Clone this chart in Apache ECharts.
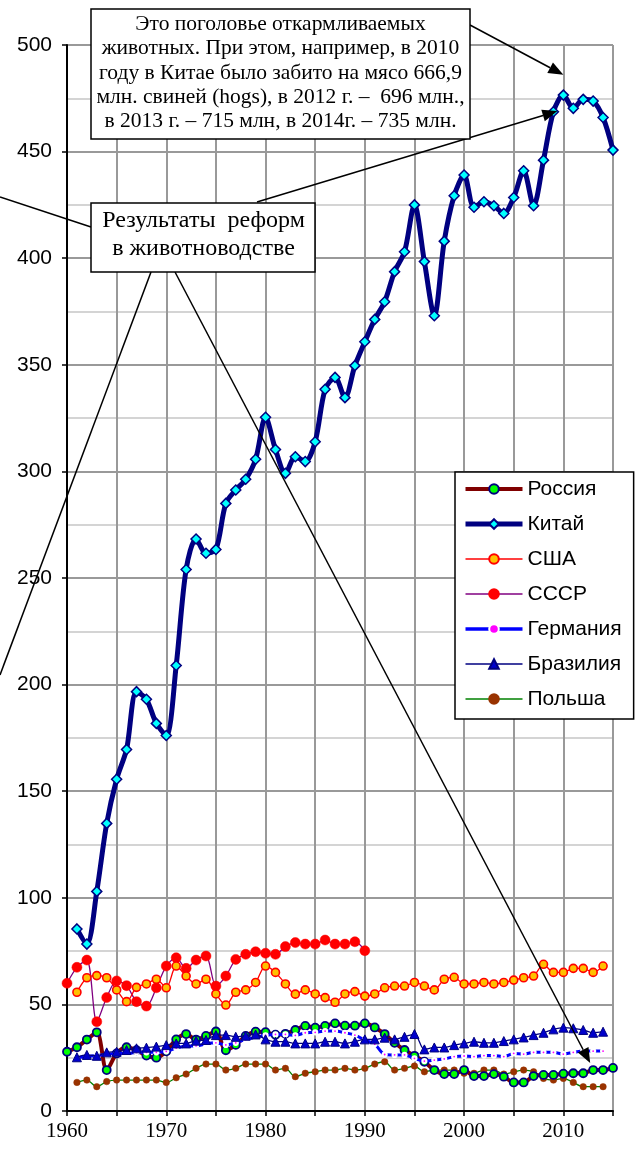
<!DOCTYPE html>
<html><head><meta charset="utf-8">
<script src="https://cdn.jsdelivr.net/npm/echarts@6/dist/echarts.min.js"></script>
<style>html,body{margin:0;padding:0;background:#fff}#c{width:637px;height:1149px}</style>
</head><body><div id="c"></div>
<script>
const years = [1960,1961,1962,1963,1964,1965,1966,1967,1968,1969,
  1970,1971,1972,1973,1974,1975,1976,1977,1978,1979,
  1980,1981,1982,1983,1984,1985,1986,1987,1988,1989,
  1990,1991,1992,1993,1994,1995,1996,1997,1998,1999,
  2000,2001,2002,2003,2004,2005,2006,2007,2008,2009,
  2010,2011,2012,2013,2014,2015];

const russia = [27.8,29.9,33.5,36.9,19.2,27,29.9,28.5,26,25,
  28,33.6,36.1,33.5,35.2,37.3,28.5,31,35.2,37.2,
  37,35.8,36.2,38,39.9,39.1,39.9,41.1,40,40,
  41.1,39.2,36.1,32,28.6,25.9,23.1,19.2,17.3,17.3,
  19.2,16.4,16.4,17.3,16.1,13.4,13.4,16.4,16.9,16.9,
  17.5,17.7,17.7,19.2,19.2,20.2];
const china = [null,85.4,78.3,103,134.9,155.6,169.6,196.7,193.1,181.8,
  176.1,209,254,268.3,261.6,263.4,285,291.3,296.3,305.7,
  325.4,310.3,299.1,306.9,304.6,313.9,338.5,344.1,334.6,349.6,
  360.8,371.3,379.6,393.7,403,425,398.4,373,408,429.3,
  439,423.9,426.5,424.6,421,428.5,441,424.6,446,468.7,
  476.5,470.3,474.5,473.7,466,450.7];
const usa = [null,55.7,62.5,63.5,62.5,56.8,51.3,58,59.6,61.8,
  57.8,68,63.3,59.6,61.8,54.9,49.7,55.7,56.8,60.3,
  68,65,59.6,54.8,56.8,54.9,53.2,51,54.9,56,
  53.9,54.9,57.8,58.6,58.6,60.3,58.6,56.8,61.8,62.7,
  59.6,59.6,60.3,59.6,60.3,61.4,62.5,63.3,68.8,65,
  65,66.9,66.9,65,68,null];
const ussr = [59.9,67.4,70.8,41.9,53.2,61,58.8,51.3,49.2,57.8,
  68,71.9,66.9,70.8,72.7,58.6,63.3,71.1,73.5,74.7,
  74,73.5,77.1,79,78.3,78.3,80.2,78.3,78.3,79.4,
  75.2,null,null,null,null,null,null,null,null,null,
  null,null,null,null,null,null,null,null,null,null,
  null,null,null,null,null,null];
const germany = [null,25,25.5,26,26.5,27,27,27.5,27.5,27.5,
  28,29.5,30.5,30.5,31.5,32,31,32,33.5,34.5,
  35.5,35.9,35.9,35.5,36.7,36.9,37.5,37.5,36.7,35.6,
  33.3,31.4,26.5,26.3,26.3,24.7,23.4,23.9,24.4,25.5,
  25.8,25.5,26,26,25.5,27,26.7,27.5,27.5,27.5,
  26.7,27.5,28.1,28.1,28.1,null];
const brazil = [null,25.2,26.3,25.9,27.5,27.8,28.6,29.4,29.7,30.2,
  30.9,31.7,31.7,33,33.3,35.6,35.6,34.8,35.3,35.9,
  33.6,32.5,32.5,31.7,31.7,31.7,32.5,32.5,31.7,32.5,
  33.6,33.6,34.4,33.6,34.8,36.1,28.9,29.8,29.8,30.9,
  31.7,32.5,32,32,32.8,33.6,34.5,35.6,36.7,38.3,
  39.1,38.8,38,36.7,37.2,null];
const poland = [null,13.4,14.5,11.4,13.8,14.5,14.5,14.5,14.5,14.5,
  13.4,15.6,17.3,20,22,22,19.2,20,22,22,
  22,19.2,20,16.1,17.7,18.4,19.2,19.2,20,19.2,
  20,22,23.1,19.2,20,21.1,18.4,19.2,19.2,19.2,
  17.7,17.7,19.2,19.2,17.3,18.4,19.2,18.4,15.3,14.5,
  15.3,13.4,11.4,11.4,11.4,null];

const legendNames = ['Россия','Китай','США','СССР','Германия','Бразилия','Польша'];
const yTicks = [0,50,100,150,200,250,300,350,400,450,500];
const noteTop = ['Это поголовье откармливаемых',
  'животных. При этом, например, в 2010',
  'году в Китае было забито на мясо 666,9',
  'млн. свиней (hogs), в 2012 г. –  696 млн.,',
  'в 2013 г. – 715 млн, в 2014г. – 735 млн.'];
const noteMid = ['Результаты  реформ','в животноводстве'];

function pairs(arr){ const out=[]; years.forEach((y,i)=>{ if(arr[i]!==null) out.push([y,arr[i]]); }); return out; }

const SERIF = "'Liberation Serif','Times New Roman',serif";
const SANS = "'Liberation Sans',Arial,sans-serif";
const chart = echarts.init(document.getElementById('c'), null, {renderer:'canvas'});

const S = 0.3;
const lw = {'Россия':4,'Китай':5,'США':1.3,'СССР':1.3,'Германия':3.5,'Бразилия':1.3,'Польша':1.3};
const option = {
  animation:false,
  backgroundColor:'#fff',
  grid:{left:67, right:24, top:45, bottom:38},
  xAxis:{type:'value', min:1960, max:2015, interval:5,
    axisLine:{show:true, onZero:false, lineStyle:{color:'#000', width:2}},
    axisTick:{show:true, length:5, lineStyle:{color:'#000', width:1.5}},
    axisLabel:{color:'#000', fontFamily:SERIF, fontSize:21, margin:10,
      formatter:v => (v%10===0 ? String(v) : '')},
    splitLine:{show:true, lineStyle:{color:'#999', width:2}}},
  yAxis:{type:'value', min:yTicks[0], max:yTicks[yTicks.length-1], interval:50,
    axisLine:{show:true, onZero:false, lineStyle:{color:'#000', width:2}},
    axisTick:{show:true, length:5, lineStyle:{color:'#000', width:1.5}},
    axisLabel:{color:'#000', fontFamily:SANS, fontSize:21, margin:15},
    splitLine:{show:true, lineStyle:{color:'#999', width:2}},
    minorTick:{show:false, splitNumber:2},
    minorSplitLine:{show:true, lineStyle:{color:'#d4d4d4', width:2}}},
  legend:{data:legendNames.map(n => ({name:n, lineStyle:{width:lw[n]}})),
    orient:'vertical', left:455, top:472,
    itemWidth:57, itemHeight:12, itemGap:13,
    padding:[6,12,9,8],
    backgroundColor:'#fff', borderColor:'#000', borderWidth:1.5,
    textStyle:{color:'#000', fontFamily:SANS, fontSize:21, lineHeight:22},
    selectedMode:false},
  series:[
    {name:'СССР', type:'line', data:pairs(ussr), smooth:S, symbol:'circle', symbolSize:10,
      lineStyle:{color:'#800080', width:1.3}, itemStyle:{color:'#ff0000', borderColor:'#ff0000', borderWidth:0.5}, z:2},
    {name:'Польша', type:'line', data:pairs(poland), smooth:S, symbol:'circle', symbolSize:6.5,
      lineStyle:{color:'#008000', width:1.3}, itemStyle:{color:'#993300', borderColor:'#993300', borderWidth:0.5}, z:3},
    {name:'Россия', type:'line', data:pairs(russia), smooth:S, symbol:'circle', symbolSize:8,
      lineStyle:{color:'#800000', width:4}, itemStyle:{color:'#00ff00', borderColor:'#000080', borderWidth:1.8}, z:4},
    {name:'Германия', type:'line', data:pairs(germany), smooth:S, symbol:'circle', symbolSize:4,
      lineStyle:{color:'#0000ff', width:3}, itemStyle:{color:'#ff00ff', borderColor:'#ffffff', borderWidth:2.2}, z:5},
    {name:'Бразилия', type:'line', data:pairs(brazil), smooth:S, symbol:'triangle', symbolSize:9,
      lineStyle:{color:'#000080', width:1.3}, itemStyle:{color:'#0000cc', borderColor:'#000080', borderWidth:1}, z:6},
    {name:'США', type:'line', data:pairs(usa), smooth:S, symbol:'circle', symbolSize:8,
      lineStyle:{color:'#ff0000', width:1.3}, itemStyle:{color:'#ffc000', borderColor:'#ff0000', borderWidth:1.6}, z:7},
    {name:'Китай', type:'line', data:pairs(china), smooth:S, symbol:'diamond', symbolSize:10,
      lineStyle:{color:'#000080', width:5}, itemStyle:{color:'#00ffff', borderColor:'#000080', borderWidth:1.5}, z:8}
  ]
};
chart.setOption(option);

function arrow(p1, p2, len, hw){
  const dx=p2[0]-p1[0], dy=p2[1]-p1[1], L=Math.hypot(dx,dy);
  const ux=dx/L, uy=dy/L, nx=-uy, ny=ux;
  const bx=p2[0]-ux*len, by=p2[1]-uy*len;
  return [
    {type:'polyline', silent:true, z:100, shape:{points:[p1,[bx,by]]}, style:{stroke:'#000', lineWidth:1.5, fill:null}},
    {type:'polygon', silent:true, z:100, shape:{points:[[p2[0],p2[1]],[bx+nx*hw,by+ny*hw],[bx-nx*hw,by-ny*hw]]}, style:{fill:'#000'}}
  ];
}
function seg(p1,p2){ return {type:'polyline', silent:true, z:100, shape:{points:[p1,p2]}, style:{stroke:'#000', lineWidth:1.5, fill:null}}; }

const tipA = chart.convertToPixel({gridIndex:0}, [2010, 486]);
const tipB = chart.convertToPixel({gridIndex:0}, [2009.4, 469]);
const tipC = chart.convertToPixel({gridIndex:0}, [2012.7, 22.5]);

const g = [];
g.push(seg([0,197],[91,227]));
g.push(seg([151,272],[0,675]));
g.push(...arrow([175,272], tipC, 15, 6));
g.push(...arrow([257,202], tipB, 15, 6));
g.push(...arrow([470,25], tipA, 15, 6));
g.push({type:'rect', silent:true, z:101, shape:{x:91, y:9, width:379, height:130}, style:{fill:'#fff', stroke:'#000', lineWidth:1.5}});
g.push({type:'text', silent:true, z:102, style:{text:noteTop.join('\n'), x:280.5, y:73, fill:'#000', font:'21.5px '+SERIF, textAlign:'center', textVerticalAlign:'middle', lineHeight:24.2}});
g.push({type:'rect', silent:true, z:101, shape:{x:91, y:203, width:224, height:69}, style:{fill:'#fff', stroke:'#000', lineWidth:1.5}});
g.push({type:'text', silent:true, z:102, style:{text:noteMid.join('\n'), x:203.5, y:235, fill:'#000', font:'24px '+SERIF, textAlign:'center', textVerticalAlign:'middle', lineHeight:28}});
chart.setOption({graphic:{elements:g}});
</script></body></html>
